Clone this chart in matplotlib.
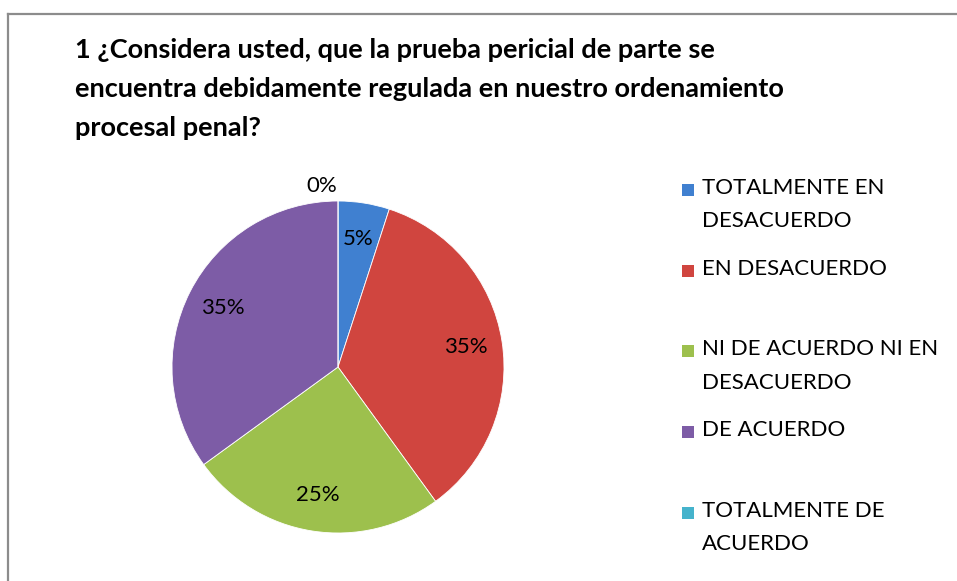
import matplotlib.pyplot as plt
from matplotlib.lines import Line2D
from matplotlib.patches import Rectangle

# data
categories = ['TOTALMENTE EN\nDESACUERDO', 'EN DESACUERDO', 'NI DE ACUERDO NI EN\nDESACUERDO',
              'DE ACUERDO', 'TOTALMENTE DE\nACUERDO']
values = [5, 35, 25, 35, 0]
colors = ['#4080d0', '#d0453f', '#9dc04d', '#7d5ca6', '#45b3cc']

title = '1 ¿Considera usted, que la prueba pericial de parte se\nencuentra debidamente regulada en nuestro ordenamiento\nprocesal penal?'

plt.rcParams['font.family'] = ['Lato', 'DejaVu Sans']

W, H = 957, 581
fig = plt.figure(figsize=(W / 100, H / 100), dpi=100)

# pie area (pixels): center (338, 367), radius 166
cx, cy, r = 338, 367, 166
ax = fig.add_axes([(cx - r) / W, (H - cy - r) / H, 2 * r / W, 2 * r / H])
wedges, texts, autotexts = ax.pie(values, colors=colors, startangle=90, counterclock=False,
                                  autopct='%1.0f%%', pctdistance=0.78,
                                  wedgeprops=dict(edgecolor='white', linewidth=0.6),
                                  textprops=dict(fontsize=16, color='black'))
# zero slice label sits just above the pie, like in Excel
autotexts[4].set_position((-0.1, 1.09))
ax.set_xlim(-1, 1)
ax.set_ylim(-1, 1)
ax.set_aspect('equal')
for w in wedges:
    w.set_clip_on(False)

# title
fig.text(75 / W, 1 - 38 / H, title, fontsize=19.5, fontweight='bold', ha='left', va='top',
         linespacing=1.74, color='black')

# legend drawn by hand so that every entry starts at the same step
y0, step = 190, 80.7
for i, (lab, col) in enumerate(zip(categories, colors)):
    y = y0 + i * step
    fig.patches.append(Rectangle((682 / W, 1 - (y + 6) / H), 12 / W, 12 / H, facecolor=col,
                                 edgecolor='none', transform=fig.transFigure, figure=fig))
    fig.text(702 / W, 1 - (y - 12) / H, lab, fontsize=16, ha='left', va='top',
             linespacing=1.82, color='black')

# chart border (top and left visible)
fig.add_artist(Line2D([8 / W, 1], [1 - 14 / H, 1 - 14 / H], color='#8c8c8c', lw=1.6,
                      transform=fig.transFigure))
fig.add_artist(Line2D([8 / W, 8 / W], [0, 1 - 14 / H], color='#8c8c8c', lw=1.6,
                      transform=fig.transFigure))

fig.savefig('out.png', dpi=100)
